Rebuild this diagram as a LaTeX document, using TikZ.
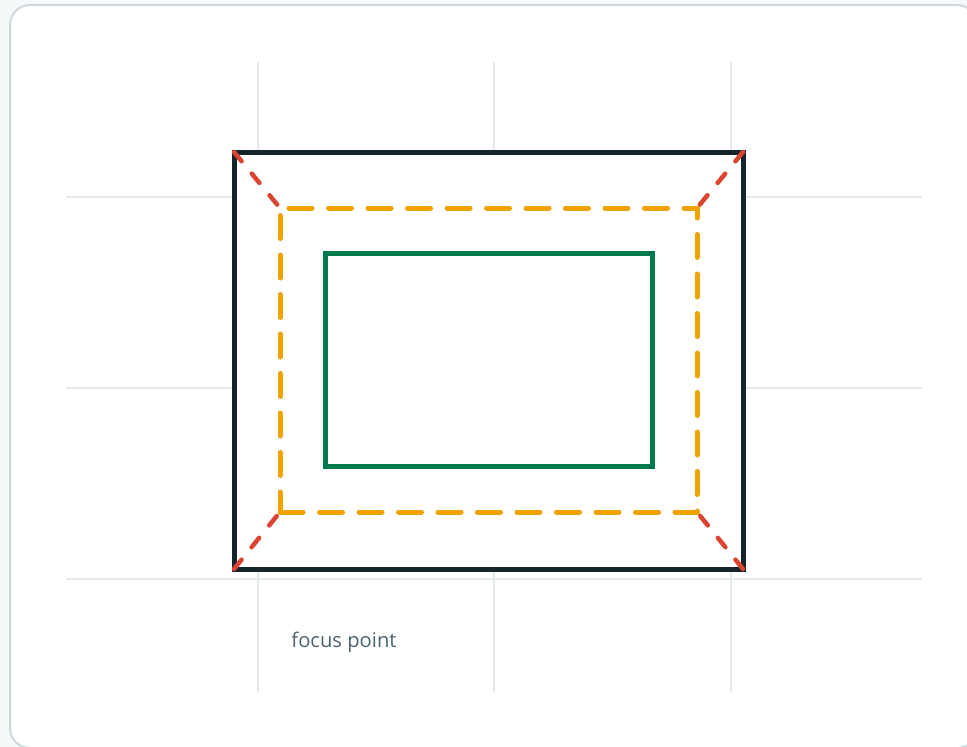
\documentclass[tikz,border=0pt]{standalone}
\usepackage{fontspec}
\setmainfont{Open Sans}
\usepackage{xcolor}
\usetikzlibrary{positioning}
\definecolor{pagebg}{HTML}{F5F8F8}
\definecolor{cardline}{HTML}{CDD9DD}
\definecolor{gridline}{HTML}{E2E9E9}
\definecolor{framecol}{HTML}{13242B}
\definecolor{safecol}{HTML}{F0A200}
\definecolor{corecol}{HTML}{007A4C}
\definecolor{raycol}{HTML}{DC4432}
\definecolor{labelcol}{HTML}{4B6470}
\tikzset{
  card/.style={draw=cardline, line width=2pt, fill=white, rounded corners=20pt},
  guide/.style={draw=gridline, line width=1.5pt},
  boxshape/.style={rectangle, outer sep=0pt, inner sep=0pt},
  frame/.style={boxshape, draw=framecol, fill=white, line width=5pt},
  safezone/.style={boxshape, draw=safecol, line width=5pt, line cap=round, dash pattern=on 23pt off 16.5pt},
  core/.style={boxshape, draw=corecol, line width=5pt},
  ray/.style={draw=raycol, line width=4.5pt, line cap=round, dash pattern=on 12pt off 16pt},
  label/.style={font=\fontsize{20.2}{24}\selectfont, text=labelcol}}

\begin{document}
\begin{tikzpicture}[x=1pt, y=-1pt]
  \useasboundingbox[fill=pagebg] (0,0) rectangle (967,747);
  \path[card] (10,5) rectangle (977,748);
  % guides
  \foreach \gx in {258,494,731} \draw[guide] (\gx,62) -- (\gx,692);
  \foreach \gy in {197,388,579} \draw[guide] (66,\gy) -- (922,\gy);
  % frames
  \node[frame, minimum width=509pt, minimum height=417pt] (outer) at (488.5,360.5) {};
  \node[safezone, minimum width=417pt, minimum height=304pt] (safe) at (488.5,360) {};
  \node[core, minimum width=327pt, minimum height=213pt] (focus) at (488.5,359.5) {};
  % corner rays
  \foreach \c in {north west, north east, south west, south east}
    \draw[ray] (outer.\c) -- (safe.\c);
  \node[label] (caption) at (344,642.5) {focus point};
\end{tikzpicture}
\end{document}
